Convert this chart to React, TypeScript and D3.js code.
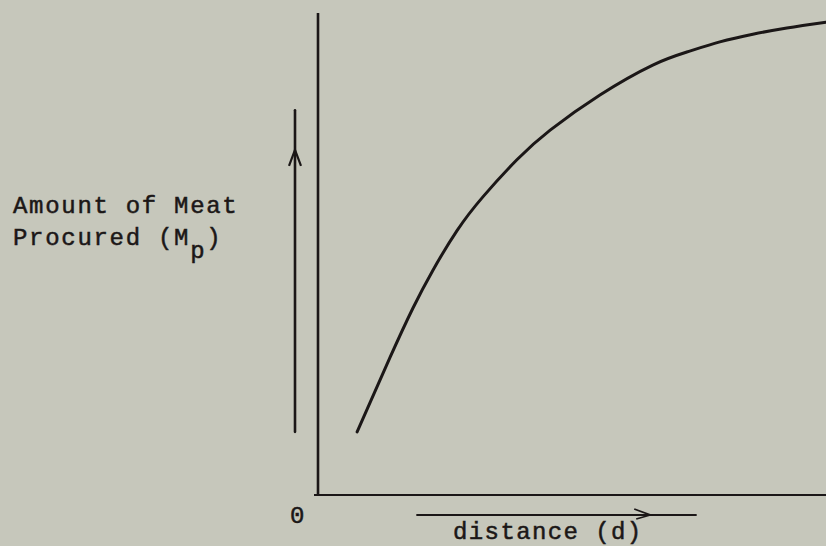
import React from "react";
import * as d3 from "d3";

// Data (domain units 0..100)
const distance = [7.7, 14.2, 18.7, 22.6, 27.4, 32.5, 39.2, 45.7, 55.5, 65.9, 72.6, 79.1, 85.6, 92.3, 100];
const meatProcured = [13.1, 28.6, 38.8, 46.6, 54.9, 61.9, 69.6, 75.7, 83.0, 89.2, 91.9, 94.0, 95.6, 96.9, 98.1];
const yLabelLines = ["Amount of Meat", "Procured (M"];
const ySubscript = "p";
const xLabel = "distance (d)";
const originLabel = "0";

const W = 826;
const H = 546;
const BG = "#c6c7bb";
const INK = "#1b1717";
const FONT = "'Liberation Mono', 'DejaVu Sans Mono', monospace";

export default function App() {
  const x = d3.scaleLinear().domain([0, 100]).range([318, 826]);
  const y = d3.scaleLinear().domain([0, 100]).range([495, 13]);
  const pts: [number, number][] = distance.map((d, i) => [d, meatProcured[i]]);
  const line = d3
    .line<[number, number]>()
    .x((d) => x(d[0]))
    .y((d) => y(d[1]))
    .curve(d3.curveNatural);

  const x0 = x(0);
  const y0 = y(0);
  // left arrow (indicator for y axis)
  const ax = x0 - 23;
  const ayTop = y(79.8);
  const ayBot = y(13.1);
  const ayTip = y(71.6);
  // bottom arrow (indicator for x axis)
  const by = y0 + 20;
  const bxL = x(19.5);
  const bxR = x(74.4);
  const bxTip = x(65.4);

  return (
    <svg
      width={W}
      height={H}
      style={{ position: "absolute", left: 0, top: 0, display: "block" }}
    >
      <rect x={0} y={0} width={W} height={H} fill={BG} />
      {/* axes */}
      <line x1={x0} y1={y(100)} x2={x0} y2={y0 + 1} stroke={INK} strokeWidth={2.6} />
      <line x1={x0 - 4} y1={y0} x2={x(100)} y2={y0} stroke={INK} strokeWidth={2.2} />
      {/* curve */}
      <path d={line(pts) || ""} fill="none" stroke={INK} strokeWidth={3} strokeLinecap="round" />
      {/* y indicator arrow */}
      <line x1={ax} y1={ayTop} x2={ax} y2={ayBot} stroke={INK} strokeWidth={2.6} strokeLinecap="round" />
      <path
        d={`M${ax - 6},${ayTip + 16} L${ax},${ayTip} L${ax + 6},${ayTip + 16}`}
        fill="none"
        stroke={INK}
        strokeWidth={2.2}
      />
      {/* x indicator arrow */}
      <line x1={bxL} y1={by} x2={bxR} y2={by} stroke={INK} strokeWidth={2} strokeLinecap="round" />
      <path
        d={`M${bxTip - 16},${by - 6} L${bxTip},${by} L${bxTip - 14},${by + 4}`}
        fill="none"
        stroke={INK}
        strokeWidth={1.8}
      />
      {/* labels */}
      <g
        fill={INK}
        stroke={INK}
        strokeWidth={0.5}
        fontFamily={FONT}
        fontSize={24}
        style={{ letterSpacing: "1.7px" }}
      >
        <text x={13} y={213}>{yLabelLines[0]}</text>
        <text x={13} y={245}>
          {yLabelLines[1]}
          <tspan dy={13}>{ySubscript}</tspan>
          <tspan dy={-13}>)</tspan>
        </text>
        <text x={290} y={523}>{originLabel}</text>
        <text x={453} y={539} style={{ letterSpacing: "1.4px" }}>{xLabel}</text>
      </g>
    </svg>
  );
}
